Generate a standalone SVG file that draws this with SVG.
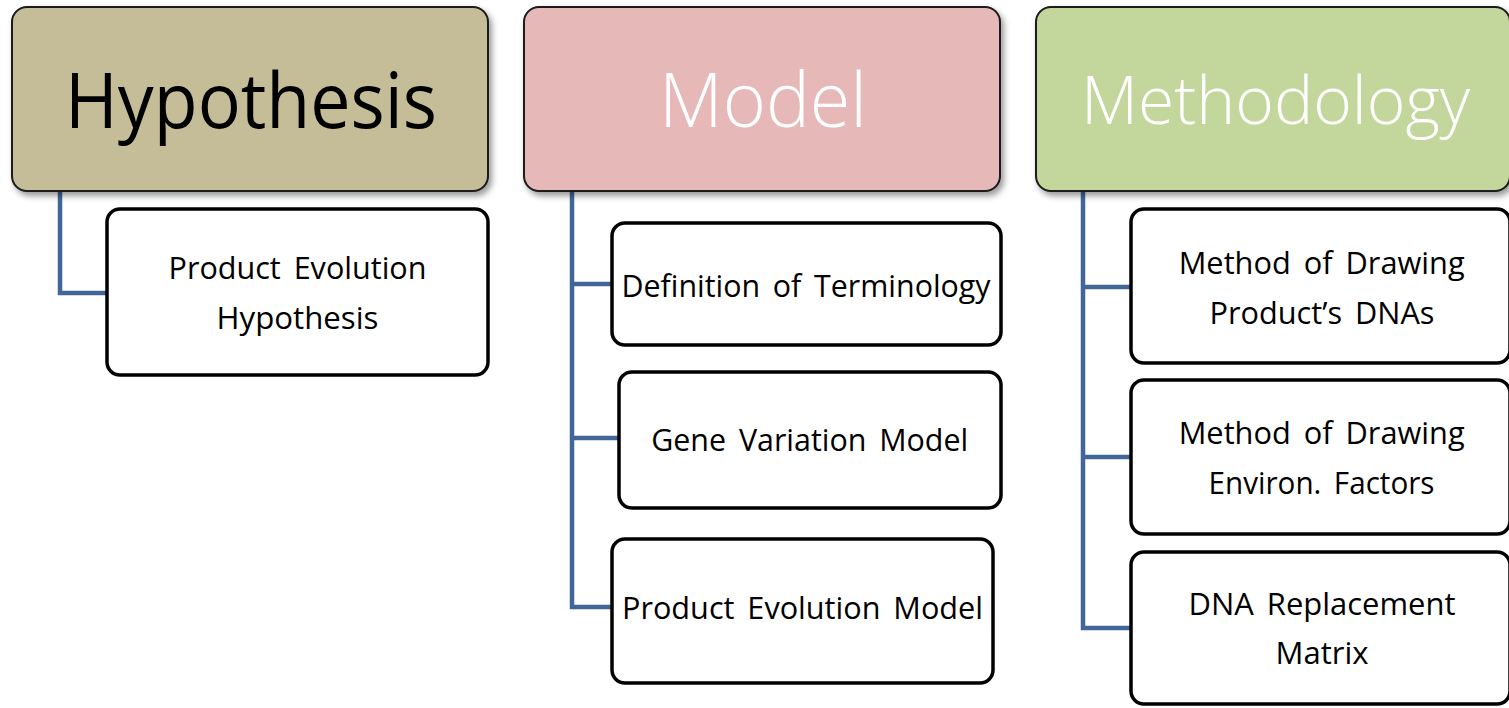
<svg xmlns="http://www.w3.org/2000/svg" width="1509" height="708" viewBox="0 0 1509 708">
<defs>
<filter id="sh" x="-10%" y="-10%" width="120%" height="130%">
<feDropShadow dx="3" dy="4" stdDeviation="3" flood-color="#000" flood-opacity="0.4"/>
</filter>
</defs>
<style>
.hdr{stroke:#1a1a1a;stroke-width:2;filter:url(#sh)}
.box{fill:#fff;stroke:#000;stroke-width:3.5}
.t{font-family:"Open Sans","Noto Sans","Liberation Sans",sans-serif;text-anchor:middle}
.big{font-size:76px}
.lt{font-weight:300}
.sm{font-size:31px;fill:#000;word-spacing:5px}
.con{fill:none;stroke:#41679A;stroke-width:4.5;stroke-linejoin:miter}
</style>
<rect width="1509" height="708" fill="#fff"/>
<g id="connectors">
<path class="con" d="M60 191 V293 H108"/>
<path class="con" d="M572 191 V607 H613 M572 284 H613 M572 438 H620"/>
<path class="con" d="M1083 191 V628 H1132 M1083 287 H1132 M1083 457 H1132"/>
</g>
<g id="hypothesis">
<rect class="hdr" x="12" y="7" width="476" height="184" rx="15" fill="#C4BD97"/>
<text class="t big" x="251" y="128" fill="#000" textLength="372" lengthAdjust="spacingAndGlyphs">Hypothesis</text>
</g>
<g id="model">
<rect class="hdr" x="524" y="7" width="476" height="184" rx="15" fill="#E6B9B8"/>
<text class="t big lt" x="763" y="127" fill="#fff" textLength="208" lengthAdjust="spacingAndGlyphs">Model</text>
</g>
<g id="methodology">
<rect class="hdr" x="1036" y="7" width="474" height="184" rx="15" fill="#C3D69B"/>
<text class="t lt" x="1275.5" y="124" fill="#fff" font-size="66" textLength="389" lengthAdjust="spacingAndGlyphs">Methodology</text>
</g>
<g id="product-evolution-hypothesis">
<rect class="box" x="107" y="209" width="381" height="166" rx="13"/>
<text class="t sm" x="297.5" y="279" textLength="258" lengthAdjust="spacingAndGlyphs">Product Evolution</text>
<text class="t sm" x="297.5" y="329" textLength="162" lengthAdjust="spacingAndGlyphs">Hypothesis</text>
</g>
<g id="definition-of-terminology">
<rect class="box" x="612" y="223" width="389" height="122" rx="13"/>
<text class="t sm" x="806" y="297" textLength="369" lengthAdjust="spacingAndGlyphs">Definition of Terminology</text>
</g>
<g id="gene-variation-model">
<rect class="box" x="619" y="372" width="382" height="136" rx="13"/>
<text class="t sm" x="809.7" y="451" textLength="317" lengthAdjust="spacingAndGlyphs">Gene Variation Model</text>
</g>
<g id="product-evolution-model">
<rect class="box" x="612" y="539" width="381" height="144" rx="13"/>
<text class="t sm" x="802.5" y="619" textLength="361" lengthAdjust="spacingAndGlyphs">Product Evolution Model</text>
</g>
<g id="method-dna">
<rect class="box" x="1131" y="209" width="379" height="154" rx="13"/>
<text class="t sm" x="1321.7" y="274" textLength="286" lengthAdjust="spacingAndGlyphs">Method of Drawing</text>
<text class="t sm" x="1322" y="324" textLength="225" lengthAdjust="spacingAndGlyphs">Product’s DNAs</text>
</g>
<g id="method-environ">
<rect class="box" x="1131" y="380" width="379" height="154" rx="13"/>
<text class="t sm" x="1321.7" y="444" textLength="286" lengthAdjust="spacingAndGlyphs">Method of Drawing</text>
<text class="t sm" x="1321.5" y="494" textLength="226" lengthAdjust="spacingAndGlyphs">Environ. Factors</text>
</g>
<g id="dna-replacement-matrix">
<rect class="box" x="1131" y="552" width="379" height="152" rx="13"/>
<text class="t sm" x="1322" y="615" textLength="267" lengthAdjust="spacingAndGlyphs">DNA Replacement</text>
<text class="t sm" x="1322" y="664" textLength="93" lengthAdjust="spacingAndGlyphs">Matrix</text>
</g>
</svg>
